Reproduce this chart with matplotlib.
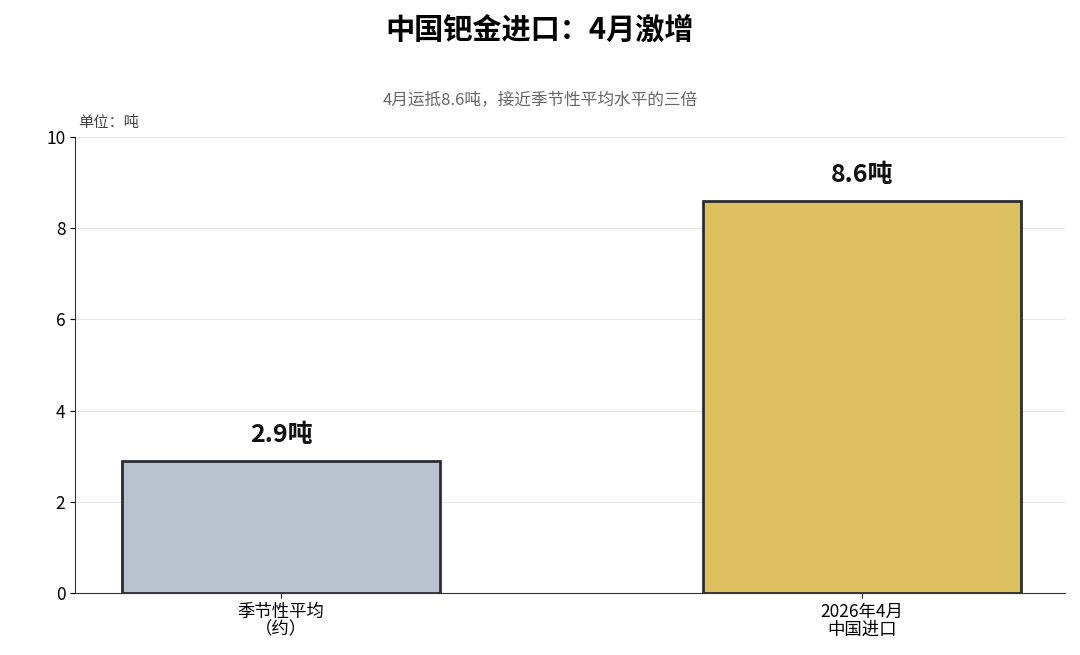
import matplotlib
matplotlib.use("Agg")
import matplotlib.pyplot as plt

plt.rcParams['font.family'] = ['Noto Sans CJK SC', 'DejaVu Sans']

categories = ["季节性平均\n（约）", "2026年4月\n中国进口"]
values = [2.9, 8.6]
labels = ["2.9吨", "8.6吨"]
colors = ["#b8c3cf", "#dcbf5e"]

fig = plt.figure(figsize=(10.8, 6.55), dpi=100)
ax = fig.add_axes([75/1080, 1-593/655, 990/1080, 456/655])
x = range(len(categories))
ax.bar(x, values, width=0.547, color=colors, edgecolor="#2b2d33", linewidth=2, zorder=3)
for xi, v, l in zip(x, values, labels):
    ax.text(xi, v + 0.3, l, ha="center", va="bottom", fontsize=18, fontweight="bold", color="#111111")
ax.set_xlim(-0.355, 1.35)
ax.set_ylim(0, 10)
ax.set_xticks(list(x))
ax.set_xticklabels(categories, fontsize=12.5, linespacing=1.0)
ax.set_yticks(range(0, 11, 2))
ax.tick_params(axis='y', labelsize=12.5)
ax.grid(axis='y', color="#e6e6e6", linewidth=0.8, zorder=0)
for s in ["top", "right"]:
    ax.spines[s].set_visible(False)
ax.spines["left"].set_color("#333333")
ax.spines["bottom"].set_color("#333333")

fig.text(0.5, 1-30/655, "中国钯金进口：4月激增", ha="center", va="center", fontsize=21, fontweight="bold")
fig.text(0.5, 1-100/655, "4月运抵8.6吨，接近季节性平均水平的三倍", ha="center", va="center", fontsize=12, color="#666666")
fig.text(78/1080, 1-122/655, "单位：吨", ha="left", va="center", fontsize=11, color="#444444")

fig.savefig("out.png", dpi=100)
